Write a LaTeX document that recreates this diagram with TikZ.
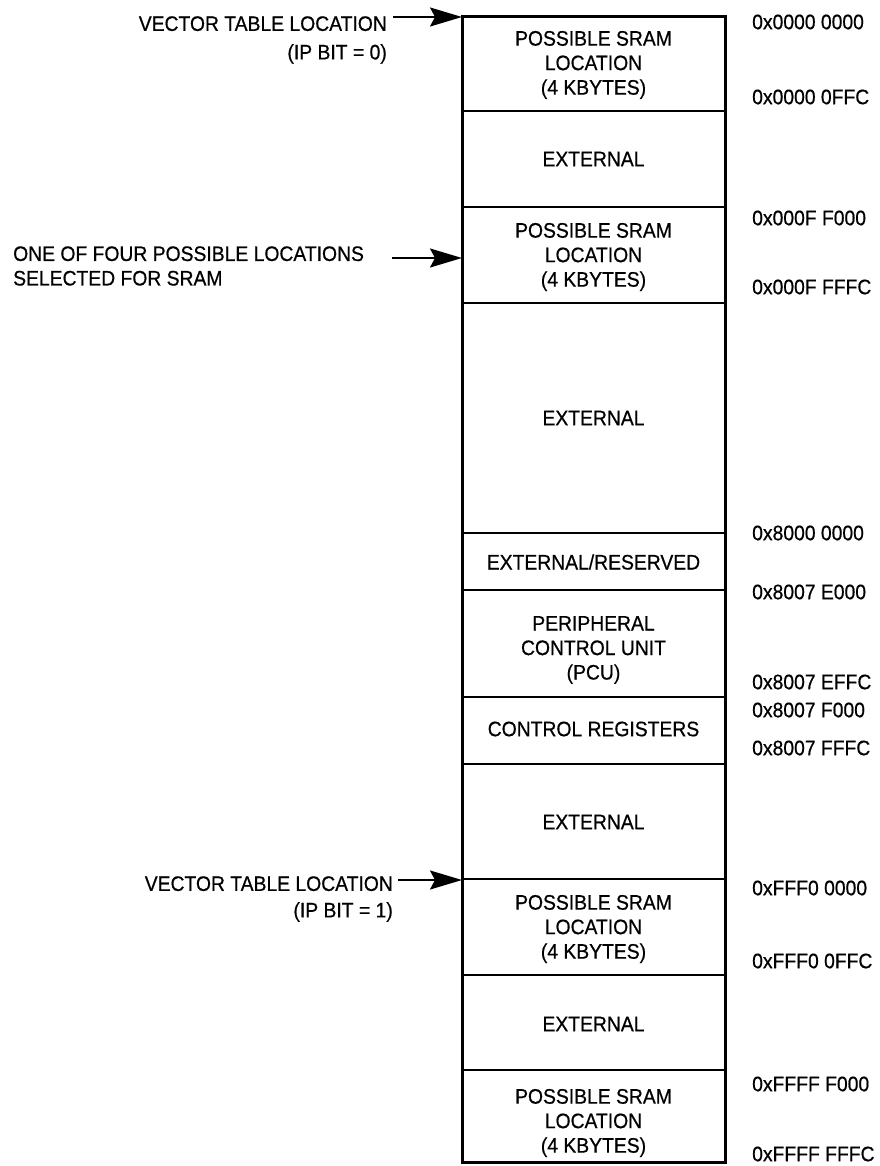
\documentclass[tikz,border=0pt]{standalone}
\usepackage{fontspec}
\setmainfont{Liberation Sans}[FakeStretch=0.92,FakeBold=0.6]
\usetikzlibrary{arrows.meta}
\newcommand\lab{\fontsize{21}{24.5}\selectfont}
\begin{document}
\begin{tikzpicture}[x=1pt,y=-1pt,
  every node/.style={font=\lab, inner sep=0pt},
  inbox/.style={align=center, anchor=center},
  addr/.style={anchor=west},
  side/.style={align=right},
  divider/.style={line width=1.8pt},
  outer/.style={line width=3pt},
  arr/.style={line width=1.8pt, -{Stealth[length=32pt,width=19pt,inset=5pt]}}]
\useasboundingbox (0,0) rectangle (879,1166);

% memory column
\draw[outer] (462,17) rectangle (725,1162);
\foreach \y in {111,207,303,533,590,697,764,879,975,1070}
  \draw[divider] (462,\y) -- (725,\y);

% region texts
\node[inbox] (s1)  at (593.5,65)  {POSSIBLE SRAM\\LOCATION\\(4 KBYTES)};
\node[inbox] (e1)  at (593.5,159) {EXTERNAL};
\node[inbox] (s2)  at (593.5,257) {POSSIBLE SRAM\\LOCATION\\(4 KBYTES)};
\node[inbox] (e2)  at (593.5,418) {EXTERNAL};
\node[inbox] (er)  at (593.5,562) {EXTERNAL/RESERVED};
\node[inbox] (pcu) at (593.5,650) {PERIPHERAL\\CONTROL UNIT\\(PCU)};
\node[inbox] (cr)  at (593.5,729) {CONTROL REGISTERS};
\node[inbox] (e3)  at (593.5,822) {EXTERNAL};
\node[inbox] (s3)  at (593.5,929) {POSSIBLE SRAM\\LOCATION\\(4 KBYTES)};
\node[inbox] (e4)  at (593.5,1024) {EXTERNAL};
\node[inbox] (s4)  at (593.5,1123) {POSSIBLE SRAM\\LOCATION\\(4 KBYTES)};

% addresses
\node[addr] (a1)  at (752,22)   {0x0000 0000};
\node[addr] (a2)  at (752,97)   {0x0000 0FFC};
\node[addr] (a3)  at (752,218)  {0x000F F000};
\node[addr] (a4)  at (752,287)  {0x000F FFFC};
\node[addr] (a5)  at (752,533)  {0x8000 0000};
\node[addr] (a6)  at (752,592)  {0x8007 E000};
\node[addr] (a7)  at (752,682)  {0x8007 EFFC};
\node[addr] (a8)  at (752,710)  {0x8007 F000};
\node[addr] (a9)  at (752,748)  {0x8007 FFFC};
\node[addr] (a10) at (752,888)  {0xFFF0 0000};
\node[addr] (a11) at (752,961)  {0xFFF0 0FFC};
\node[addr] (a12) at (752,1084) {0xFFFF F000};
\node[addr] (a13) at (752,1154) {0xFFFF FFFC};

% left annotations
\node[side, anchor=east] (vt0) at (387,40) {VECTOR TABLE LOCATION\\[4pt](IP BIT = 0)};
\node[align=left, anchor=west] (one) at (13,266) {ONE OF FOUR POSSIBLE LOCATIONS\\SELECTED FOR SRAM};
\node[side, anchor=east] (vt1) at (393,899) {VECTOR TABLE LOCATION\\[2pt](IP BIT = 1)};

\coordinate (p0) at (462,17);
\coordinate (p1) at (462,258);
\coordinate (p2) at (462,880);

\draw[arr] (vt0.east |- p0) ++(6,0) -- (p0);
\draw[arr] (one.east |- p1) ++(28,0) -- (p1);
\draw[arr] (vt1.east |- p2) ++(5,0) -- (p2);
\end{tikzpicture}
\end{document}
